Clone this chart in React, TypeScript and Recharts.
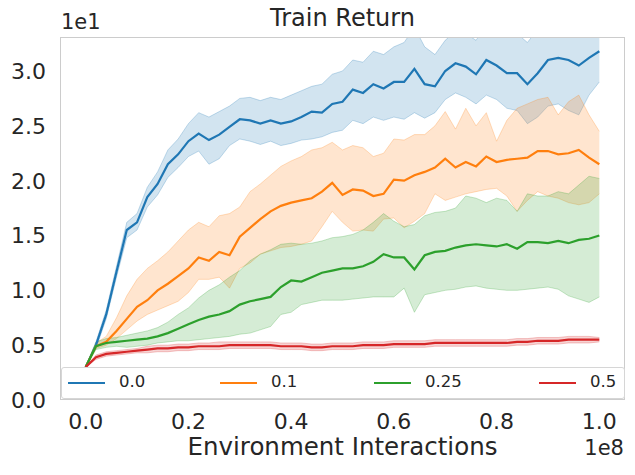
import React from "react"
import { ComposedChart, Line, Area, XAxis, YAxis } from "recharts"

// x in units of 1e8 environment interactions
const steps = [
  0, 0.02, 0.04, 0.06, 0.08, 0.1, 0.12, 0.14, 0.16, 0.18, 0.2, 0.22, 0.24, 0.26, 0.28, 0.3, 0.32,
  0.34, 0.36, 0.38, 0.4, 0.42, 0.44, 0.46, 0.48, 0.5, 0.52, 0.54, 0.56, 0.58, 0.6, 0.62, 0.64,
  0.66, 0.68, 0.7, 0.72, 0.74, 0.76, 0.78, 0.8, 0.82, 0.84, 0.86, 0.88, 0.9, 0.92, 0.94, 0.96,
  0.98, 1.0,
]

// returns in units of 1e1
const mean00 = [
  0.3, 0.5, 0.78, 1.17, 1.55, 1.62, 1.85, 1.97, 2.15, 2.24, 2.36, 2.43, 2.37, 2.42, 2.49, 2.56, 2.55,
  2.52, 2.55, 2.52, 2.54, 2.58, 2.63, 2.62, 2.7, 2.72, 2.83, 2.8, 2.88, 2.84, 2.9, 2.9, 3.02,
  2.88, 2.86, 3.0, 3.07, 3.04, 2.97, 3.1, 3.05, 2.98, 2.98, 2.88, 2.98, 3.1, 3.12, 3.1, 3.05,
  3.12, 3.18,
]
const lo00 = [
  0.3, 0.47, 0.74, 1.12, 1.48, 1.55, 1.76, 1.87, 2.03, 2.12, 2.22, 2.27, 2.15, 2.2, 2.32, 2.38, 2.36,
  2.33, 2.36, 2.32, 2.34, 2.37, 2.38, 2.4, 2.44, 2.46, 2.55, 2.52, 2.58, 2.55, 2.58, 2.56, 2.62,
  2.57, 2.62, 2.74, 2.8, 2.76, 2.7, 2.78, 2.74, 2.66, 2.64, 2.52, 2.58, 2.68, 2.7, 2.64, 2.6,
  2.78, 2.9,
]
const hi00 = [
  0.3, 0.53, 0.82, 1.22, 1.62, 1.7, 1.94, 2.08, 2.28, 2.38, 2.52, 2.62, 2.58, 2.63, 2.68, 2.75, 2.76,
  2.73, 2.76, 2.74, 2.78, 2.82, 2.86, 2.88, 2.97, 3.0, 3.1, 3.08, 3.18, 3.15, 3.22, 3.26, 3.4,
  3.22, 3.15, 3.28, 3.36, 3.34, 3.28, 3.42, 3.38, 3.32, 3.34, 3.26, 3.38, 3.5, 3.52, 3.54, 3.48,
  3.46, 3.46,
]

const mean01 = [
  0.3, 0.49, 0.53, 0.63, 0.74, 0.85, 0.91, 1.0, 1.06, 1.13, 1.2, 1.3, 1.27, 1.35, 1.32, 1.49, 1.57,
  1.65, 1.72, 1.77, 1.8, 1.82, 1.84, 1.9, 1.98, 1.87, 1.92, 1.91, 1.86, 1.88, 2.01, 2.0, 2.05,
  2.08, 2.12, 2.2, 2.12, 2.17, 2.13, 2.22, 2.17, 2.19, 2.2, 2.21, 2.27, 2.27, 2.24, 2.25, 2.28,
  2.21, 2.15,
]
const lo01 = [
  0.3, 0.47, 0.5, 0.56, 0.64, 0.72, 0.78, 0.82, 0.86, 0.9, 0.98, 1.1, 1.1, 1.12, 1.02, 1.2, 1.25,
  1.33, 1.36, 1.39, 1.4, 1.42, 1.45, 1.58, 1.72, 1.62, 1.54, 1.55, 1.54, 1.65, 1.66, 1.57, 1.63,
  1.7, 1.88, 1.82, 1.85, 1.88, 1.9, 1.92, 1.93, 1.86, 1.72, 1.82, 1.9, 1.86, 1.84, 1.8, 1.78,
  1.8, 1.88,
]
const hi01 = [
  0.3, 0.52, 0.58, 0.75, 0.95, 1.1, 1.2, 1.27, 1.35, 1.45, 1.55, 1.62, 1.58, 1.68, 1.7, 1.76, 1.9,
  1.97, 2.05, 2.13, 2.18, 2.22, 2.28, 2.3, 2.35, 2.28, 2.32, 2.3, 2.22, 2.25, 2.38, 2.37, 2.42,
  2.42, 2.5, 2.63, 2.47, 2.66, 2.5, 2.62, 2.36, 2.55, 2.66, 2.7, 2.74, 2.76, 2.6, 2.72, 2.78,
  2.6, 2.45,
]

const mean025 = [
  0.3, 0.49, 0.52, 0.53, 0.54, 0.55, 0.56, 0.58, 0.61, 0.65, 0.69, 0.73, 0.76, 0.78, 0.81, 0.87, 0.9,
  0.92, 0.94, 1.03, 1.09, 1.08, 1.12, 1.16, 1.18, 1.2, 1.2, 1.22, 1.26, 1.33, 1.3, 1.3, 1.19,
  1.32, 1.35, 1.36, 1.39, 1.41, 1.42, 1.41, 1.4, 1.42, 1.38, 1.44, 1.44, 1.43, 1.45, 1.43, 1.46,
  1.47, 1.5,
]
const lo025 = [
  0.3, 0.46, 0.48, 0.49, 0.48, 0.49, 0.5, 0.52, 0.53, 0.54, 0.54, 0.55, 0.56, 0.57, 0.58, 0.6, 0.61,
  0.64, 0.67, 0.78, 0.8, 0.87, 0.89, 0.91, 0.91, 0.91, 0.92, 0.93, 0.94, 0.94, 0.94, 1.02, 0.8,
  0.96, 0.98, 1.0, 1.01, 1.03, 1.04, 1.02, 1.01, 1.0, 1.0, 1.01, 1.02, 1.03, 1.01, 0.95, 0.92,
  0.89, 0.94,
]
const hi025 = [
  0.3, 0.53, 0.56, 0.57, 0.59, 0.61, 0.63, 0.66, 0.71, 0.78, 0.84, 0.93, 1.0, 1.05, 1.12, 1.18, 1.27,
  1.33, 1.37, 1.42, 1.43, 1.42, 1.43, 1.45, 1.48, 1.49, 1.51, 1.55, 1.62, 1.7, 1.63, 1.58, 1.6,
  1.68, 1.71, 1.72, 1.75, 1.86, 1.84, 1.8, 1.84, 1.82, 1.72, 1.88, 1.86, 1.86, 1.9, 1.88, 1.96,
  2.04, 2.02,
]

const mean05 = [
  0.3, 0.39, 0.42, 0.43, 0.44, 0.45, 0.46, 0.47, 0.47, 0.48, 0.48, 0.49, 0.49, 0.49, 0.5, 0.5, 0.5,
  0.5, 0.5, 0.49, 0.49, 0.49, 0.48, 0.48, 0.49, 0.49, 0.49, 0.5, 0.5, 0.5, 0.51, 0.51, 0.51,
  0.51, 0.52, 0.52, 0.52, 0.52, 0.52, 0.52, 0.52, 0.52, 0.53, 0.53, 0.54, 0.54, 0.54, 0.55, 0.55,
  0.55, 0.55,
]
const lo05 = [
  0.3, 0.37, 0.4, 0.41, 0.42, 0.43, 0.43, 0.44, 0.44, 0.45, 0.45, 0.46, 0.46, 0.46, 0.47, 0.47, 0.47,
  0.47, 0.47, 0.46, 0.46, 0.46, 0.45, 0.45, 0.46, 0.46, 0.46, 0.47, 0.47, 0.47, 0.48, 0.48, 0.48,
  0.48, 0.49, 0.49, 0.49, 0.49, 0.49, 0.49, 0.49, 0.49, 0.5, 0.5, 0.51, 0.51, 0.51, 0.52, 0.52,
  0.52, 0.53,
]
const hi05 = [
  0.3, 0.41, 0.44, 0.45, 0.46, 0.47, 0.49, 0.5, 0.5, 0.51, 0.51, 0.52, 0.52, 0.53, 0.53, 0.53, 0.53,
  0.53, 0.53, 0.52, 0.52, 0.52, 0.51, 0.51, 0.52, 0.52, 0.52, 0.53, 0.53, 0.53, 0.54, 0.54, 0.54,
  0.54, 0.55, 0.55, 0.55, 0.55, 0.55, 0.55, 0.55, 0.55, 0.56, 0.56, 0.57, 0.57, 0.57, 0.58, 0.58,
  0.58, 0.57,
]

const series = [
  { name: "0.0", color: "#1f77b4", mean: mean00, lo: lo00, hi: hi00, legendX: 67 },
  { name: "0.1", color: "#ff7f0e", mean: mean01, lo: lo01, hi: hi01, legendX: 219 },
  { name: "0.25", color: "#2ca02c", mean: mean025, lo: lo025, hi: hi025, legendX: 373 },
  { name: "0.5", color: "#d62728", mean: mean05, lo: lo05, hi: hi05, legendX: 538 },
]

const xTicks = [0, 0.2, 0.4, 0.6, 0.8, 1.0]
const yTicks = [0, 0.5, 1.0, 1.5, 2.0, 2.5, 3.0]

const rows = steps.map((x, i) => {
  const row: any = { x }
  series.forEach((s, k) => {
    row[`m${k}`] = s.mean[i]
    row[`b${k}`] = [s.lo[i], s.hi[i]]
  })
  return row
})

const FONT = "DejaVu Sans, sans-serif"
const TEXT = "#262626"

const W = 635
const H = 475
const PLOT = { left: 60, top: 37, right: 625, bottom: 400 }

const XTick = ({ x, payload }: any) => (
  <text x={x} y={429} textAnchor="middle" fontSize={22} fill={TEXT} fontFamily={FONT}>
    {payload.value.toFixed(1)}
  </text>
)

const YTick = ({ y, payload }: any) => (
  <text x={46} y={y + 8} textAnchor="end" fontSize={22} fill={TEXT} fontFamily={FONT}>
    {payload.value.toFixed(1)}
  </text>
)

export default function App() {
  return (
    <div style={{ position: "fixed", left: 0, top: 0, width: W, height: H, background: "#fff", fontFamily: FONT }}>
      <ComposedChart
        width={W}
        height={H}
        data={rows}
        margin={{ top: PLOT.top, right: W - PLOT.right, left: 0, bottom: H - PLOT.bottom - 40 }}
      >
        <XAxis
          dataKey="x"
          type="number"
          domain={[-0.05, 1.05]}
          ticks={xTicks}
          allowDataOverflow
          axisLine={false}
          tickLine={false}
          height={40}
          tick={<XTick />}
          interval={0}
        />
        <YAxis
          type="number"
          domain={[0, 3.31]}
          ticks={yTicks}
          allowDataOverflow
          axisLine={false}
          tickLine={false}
          width={PLOT.left}
          tick={<YTick />}
          interval={0}
        />
        {series.map((s, k) => (
          <Area
            key={`band-${k}`}
            type="linear"
            dataKey={`b${k}`}
            fill={s.color}
            fillOpacity={0.2}
            stroke={s.color}
            strokeOpacity={0.25}
            strokeWidth={1}
            dot={false}
            activeDot={false}
            isAnimationActive={false}
          />
        ))}
        {series.map((s, k) => (
          <Line
            key={`line-${k}`}
            type="linear"
            dataKey={`m${k}`}
            stroke={s.color}
            strokeWidth={2.2}
            dot={false}
            activeDot={false}
            isAnimationActive={false}
          />
        ))}
      </ComposedChart>

      {/* axes frame */}
      <div
        style={{
          position: "absolute",
          left: PLOT.left,
          top: PLOT.top,
          width: PLOT.right - PLOT.left,
          height: PLOT.bottom - PLOT.top,
          border: "1.5px solid #cccccc",
          boxSizing: "border-box",
          pointerEvents: "none",
        }}
      />

      {/* legend */}
      <div
        style={{
          position: "absolute",
          left: 61,
          top: 367,
          width: 564,
          height: 32,
          border: "1.2px solid #d6d6d6",
          borderRadius: 3,
          background: "rgba(255,255,255,0.8)",
          boxSizing: "border-box",
        }}
      >
        {series.map((s) => (
          <React.Fragment key={s.name}>
            <div
              style={{
                position: "absolute",
                left: s.legendX - 61,
                top: 14,
                width: 37,
                height: 2,
                background: s.color,
              }}
            />
            <div
              style={{
                position: "absolute",
                left: s.legendX - 61 + 51,
                top: 4,
                fontSize: 16.5,
                lineHeight: "20px",
                color: TEXT,
              }}
            >
              {s.name}
            </div>
          </React.Fragment>
        ))}
      </div>

      {/* title and axis labels */}
      <div style={{ position: "absolute", left: PLOT.left, width: PLOT.right - PLOT.left, top: 4, textAlign: "center", fontSize: 24, color: TEXT }}>
        Train Return
      </div>
      <div style={{ position: "absolute", left: 61, top: 10, fontSize: 21, color: TEXT }}>1e1</div>
      <div style={{ position: "absolute", left: PLOT.left, width: PLOT.right - PLOT.left, top: 432, textAlign: "center", fontSize: 24.5, color: TEXT }}>
        Environment Interactions
      </div>
      <div style={{ position: "absolute", right: 635 - 624, top: 436, fontSize: 21, color: TEXT }}>1e8</div>
    </div>
  )
}
